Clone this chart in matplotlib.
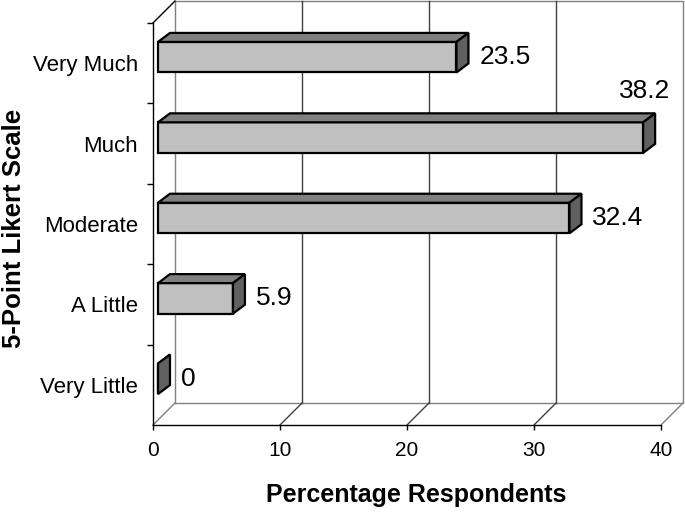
import matplotlib
matplotlib.use('Agg')
import matplotlib.pyplot as plt
from matplotlib.patches import Polygon

plt.rcParams['font.family'] = ['Liberation Sans', 'DejaVu Sans']

# data
categories = ['Very Little', 'A Little', 'Moderate', 'Much', 'Very Much']
values = [0, 5.9, 32.4, 38.2, 23.5]
x_ticks = [0, 10, 20, 30, 40]

fig = plt.figure(figsize=(6.85, 5.19), dpi=100)
ax = fig.add_axes([153 / 685, 94 / 519, 508 / 685, 402 / 519])
ax.set_xlim(0, 40)
ax.set_ylim(-0.5, 4.5)

# pixel -> data unit factors, used for the fake 3D depth
sx = 40 / 508
sy = 5 / 402

wall_dx, wall_dy = 22 * sx, 22 * sy      # depth of floor / walls
front_dx, front_dy = 5 * sx, 6 * sy      # bars sit a bit behind the front plane
bar_dx, bar_dy = 12 * sx, 9 * sy         # bar depth
bar_h = 0.38

wall_col = '#808080'
grid_col = '#404040'
kw = dict(clip_on=False, lw=1.0)

# back wall
ax.plot([wall_dx, 40 + wall_dx, 40 + wall_dx, wall_dx, wall_dx],
        [-0.5 + wall_dy, -0.5 + wall_dy, 4.5 + wall_dy, 4.5 + wall_dy, -0.5 + wall_dy],
        color=wall_col, zorder=1, **kw)
for t in x_ticks[1:-1]:
    ax.plot([t + wall_dx, t + wall_dx], [-0.5 + wall_dy, 4.5 + wall_dy],
            color=grid_col, zorder=1, **kw)

# floor diagonals
for t in x_ticks:
    c = wall_col if t in (x_ticks[0], x_ticks[-1]) else grid_col
    ax.plot([t, t + wall_dx], [-0.5, -0.5 + wall_dy], color=c, zorder=1, **kw)
# left wall top edge
ax.plot([0, wall_dx], [4.5, 4.5 + wall_dy], color='black', zorder=1, **kw)

# bars
for i, v in enumerate(values):
    x0 = front_dx
    y0 = i - bar_h / 2 + front_dy
    front = [(x0, y0), (x0 + v, y0), (x0 + v, y0 + bar_h), (x0, y0 + bar_h)]
    top = [(x0, y0 + bar_h), (x0 + v, y0 + bar_h),
           (x0 + v + bar_dx, y0 + bar_h + bar_dy), (x0 + bar_dx, y0 + bar_h + bar_dy)]
    side = [(x0 + v, y0), (x0 + v, y0 + bar_h),
            (x0 + v + bar_dx, y0 + bar_h + bar_dy), (x0 + v + bar_dx, y0 + bar_dy)]
    for pts, col in [(front, '#c0c0c0'), (top, '#808080'), (side, '#606060')]:
        ax.add_patch(Polygon(pts, closed=True, facecolor=col, edgecolor='black',
                             lw=1.6, joinstyle='miter', zorder=3, clip_on=False))

    label = f'{v:g}'
    if v > 35:
        # no room on the right: put it above the bar end
        ax.text(x0 + v + bar_dx + 15 * sx, y0 + bar_h + bar_dy + 15 * sy, label,
                ha='right', va='baseline', fontsize=19, zorder=4)
    else:
        ax.text(x0 + v + 23 * sx, i - 1 * sy, label,
                ha='left', va='baseline', fontsize=19, zorder=4)

# axes
for s in ['top', 'right']:
    ax.spines[s].set_visible(False)
for s in ['left', 'bottom']:
    ax.spines[s].set_color('black')
    ax.spines[s].set_linewidth(1.0)
    ax.spines[s].set_zorder(5)

ax.set_xticks(x_ticks)
ax.set_xticklabels([str(t) for t in x_ticks], fontsize=15)
ax.tick_params(axis='x', direction='out', length=3.6, width=1, pad=8)

ax.set_yticks(range(len(categories)))
ax.set_yticklabels(categories, fontsize=16)
ax.set_yticks([k + 0.5 for k in range(len(categories))], minor=True)
ax.tick_params(axis='y', which='major', length=0, pad=10.8)
ax.tick_params(axis='y', which='minor', direction='out', length=4.3, width=1)

ax.patch.set_visible(False)

fig.text(416 / 685, 1 - 502 / 519, 'Percentage Respondents', ha='center', va='baseline',
         fontsize=18, fontweight='bold')
fig.text(14 / 685, 1 - 228 / 519, '5-Point Likert Scale', ha='center', va='center',
         rotation=90, fontsize=18.5, fontweight='bold')

fig.savefig('out.png', dpi=100)
